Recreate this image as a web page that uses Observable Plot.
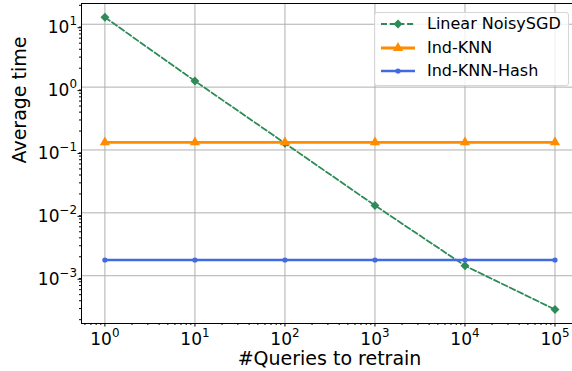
<!DOCTYPE html>
<html><head><meta charset="utf-8">
<script src="https://cdn.jsdelivr.net/npm/d3@7"></script>
<script src="https://cdn.jsdelivr.net/npm/@observablehq/plot@0.6"></script>
<style>
html,body{margin:0;padding:0;overflow:hidden;background:#fff}
#wrap{position:relative;width:572px;height:371px;font-family:"DejaVu Sans",sans-serif;overflow:hidden}
#legend{position:absolute;left:374px;top:12px;width:195px;height:74px;border:1px solid #d6d6d6;border-radius:3px;background:rgba(255,255,255,0.8);box-sizing:border-box}
.row{position:absolute;left:0;height:24px;width:100%}
.row svg{position:absolute;left:3px;top:0}
.row span{position:absolute;left:52px;top:0;line-height:24px;font-size:16px;color:#000;white-space:nowrap}
</style>
</head><body>
<div id="wrap"></div>
<script>
// ---- data ----
const queries = [1, 10, 100, 1000, 10000, 100000];
const noisySGD = [12.9, 1.25, 0.128, 0.0131, 0.00144, 0.00029];
const indKNN = [0.132, 0.132, 0.132, 0.132, 0.132, 0.132];
const indKNNHash = [0.00178, 0.00178, 0.00178, 0.00178, 0.00178, 0.00178];
const seriesNames = ["Linear NoisySGD", "Ind-KNN", "Ind-KNN-Hash"];
const seriesColors = ["#2e8b57", "#ff8c00", "#4169e1"];
const xMajor = [1, 10, 100, 1000, 10000, 100000];
const yMajor = [0.001, 0.01, 0.1, 1, 10];
const xLabel = "#Queries to retrain";
const yLabel = "Average time";

const xDomain = [Math.pow(10, -0.26), Math.pow(10, 5.25)];
const yDomain = [Math.pow(10, -3.76), Math.pow(10, 1.33)];

function minorTicks(lo, hi, dom) {
  const out = [];
  for (let n = lo; n <= hi; n++) for (let k = 2; k <= 9; k++) {
    const v = k * Math.pow(10, n);
    if (v >= dom[0] && v <= dom[1]) out.push(v);
  }
  return out;
}
const xMinor = minorTicks(-1, 5, xDomain);
const yMinor = minorTicks(-4, 1, yDomain);

const rows = [];
[noisySGD, indKNN, indKNNHash].forEach((vals, i) => {
  vals.forEach((v, j) => rows.push({series: seriesNames[i], x: queries[j], y: v}));
});
const bySeries = name => rows.filter(r => r.series === name);

const fmt = d => "10^" + Math.round(Math.log10(d));
const FS = 17;
const DASH = "6,2.7";

const chart = Plot.plot({
  width: 572, height: 371,
  marginLeft: 81, marginRight: -5, marginTop: 3, marginBottom: 48,
  style: {fontFamily: "DejaVu Sans", background: "white"},
  x: {type: "log", domain: xDomain, label: null},
  y: {type: "log", domain: yDomain, label: null},
  marks: [
    Plot.gridX({ticks: xMajor, stroke: "#b0b0b0", strokeOpacity: 1, strokeWidth: 1}),
    Plot.gridY({ticks: yMajor, stroke: "#b0b0b0", strokeOpacity: 1, strokeWidth: 1}),
    Plot.axisX({ticks: xMinor, tickSize: 2, tickFormat: () => "", label: null, stroke: "#000"}),
    Plot.axisX({ticks: xMajor, tickSize: 3.5, tickPadding: 5.5, fontSize: FS, tickFormat: fmt, label: null, stroke: "#000", fill: "#000"}),
    Plot.axisY({ticks: yMinor, tickSize: 2, tickFormat: () => "", label: null, stroke: "#000"}),
    Plot.axisY({ticks: yMajor, tickSize: 3.5, tickPadding: 1, fontSize: FS, tickFormat: fmt, label: null, dy: 3.5, stroke: "#000", fill: "#000"}),
    Plot.frame({stroke: "#000", strokeWidth: 1}),
    Plot.line(bySeries(seriesNames[0]), {x: "x", y: "y", stroke: seriesColors[0], strokeWidth: 1.8, strokeDasharray: DASH}),
    Plot.dot(bySeries(seriesNames[0]), {x: "x", y: "y", fill: seriesColors[0], symbol: "diamond2", r: 4}),
    Plot.line(bySeries(seriesNames[1]), {x: "x", y: "y", stroke: seriesColors[1], strokeWidth: 2.8}),
    Plot.dot(bySeries(seriesNames[1]), {x: "x", y: "y", fill: seriesColors[1], symbol: "triangle", r: 3.8}),
    Plot.line(bySeries(seriesNames[2]), {x: "x", y: "y", stroke: seriesColors[2], strokeWidth: 2.3}),
    Plot.dot(bySeries(seriesNames[2]), {x: "x", y: "y", fill: seriesColors[2], r: 2.6}),
    Plot.text([xLabel], {text: d => d, frameAnchor: "bottom", dy: 41, lineAnchor: "bottom", fontSize: 19, fill: "#000"}),
    Plot.text([yLabel], {text: d => d, frameAnchor: "left", rotate: -90, dx: -56, lineAnchor: "bottom", fontSize: 19, fill: "#000"})
  ]
});

// superscripts for tick labels
const NS = "http://www.w3.org/2000/svg";
chart.querySelectorAll("text").forEach(t => {
  const m = t.textContent.match(/^10\^(-?\d+)$/);
  if (m) {
    t.textContent = "10";
    const ts = document.createElementNS(NS, "tspan");
    ts.setAttribute("dy", (-0.47 * FS).toFixed(1));
    ts.setAttribute("font-size", (0.7 * FS).toFixed(1));
    ts.textContent = m[1].replace("-", "\u2212");
    t.appendChild(ts);
  }
});

const wrap = document.getElementById("wrap");
wrap.appendChild(chart);

// legend
const legend = document.createElement("div");
legend.id = "legend";
const rowTops = [-1, 23, 46];
seriesNames.forEach((name, i) => {
  const row = document.createElement("div");
  row.className = "row";
  row.style.top = rowTops[i] + "px";
  const s = d3.create("svg").attr("width", 40).attr("height", 24);
  const line = s.append("line").attr("x1", 3).attr("x2", 37).attr("y1", 12).attr("y2", 12)
    .attr("stroke", seriesColors[i]);
  if (i === 0) {
    line.attr("stroke-width", 1.8).attr("stroke-dasharray", DASH);
    s.append("path").attr("d", d3.symbol(d3.symbolDiamond2, Math.PI * 16)()).attr("transform", "translate(20,12)").attr("fill", seriesColors[i]);
  } else if (i === 1) {
    line.attr("stroke-width", 2.8);
    s.append("path").attr("d", d3.symbol(d3.symbolTriangle, Math.PI * 3.8 * 3.8)()).attr("transform", "translate(20,12)").attr("fill", seriesColors[i]);
  } else {
    line.attr("stroke-width", 2.3);
    s.append("circle").attr("cx", 20).attr("cy", 12).attr("r", 2.6).attr("fill", seriesColors[i]);
  }
  row.appendChild(s.node());
  const sp = document.createElement("span");
  sp.textContent = name;
  row.appendChild(sp);
  legend.appendChild(row);
});
wrap.appendChild(legend);
</script>
</body></html>
